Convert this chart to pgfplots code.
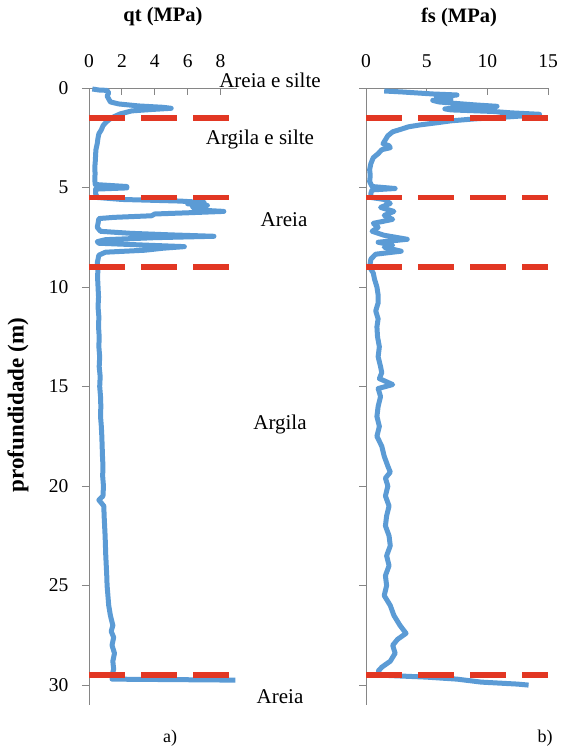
\documentclass[border=0pt]{standalone}
\usepackage{pgfplots}
\pgfplotsset{compat=1.18}
\usepackage{fontspec}
\setmainfont{Liberation Serif}
\definecolor{cptblue}{RGB}{91,155,213}
\definecolor{cptred}{RGB}{226,55,35}
\definecolor{axgray}{RGB}{134,134,134}
\pgfplotsset{
  cpt/.style={
    scale only axis, height=617pt, y dir=reverse, ymin=0, ymax=31,
    ytick={0,5,...,30}, axis x line*=top, axis y line*=left,
    axis line style={axgray, line width=0.9pt},
    tick style={axgray, line width=0.9pt}, tick align=inside, major tick length=7pt,
    ytick style={xshift=-7pt},
    ticklabel style={font=\fontsize{19.5}{22}\selectfont},
    /pgf/number format/assume math mode=true,
    xticklabel shift=17pt, yticklabel shift=17pt,
    clip=false,
  },
  blueline/.style={cptblue, line width=5pt, line join=round, no marks},
  redline/.style={cptred, line width=5.5pt, dash pattern=on 36pt off 16pt, no marks},
}
\begin{document}
\begin{tikzpicture}[x=1pt,y=1pt]
\useasboundingbox (0,0) rectangle (560,752);
\begin{axis}[cpt, width=148pt, at={(89pt,47pt)}, anchor=south west,
  xmin=0, xmax=9, xtick={0,2,4,6,8},
  ylabel={\bfseries profundidade (m)},
  every axis y label/.style={at={(rel axis cs:-0.48,0.486)}, rotate=90, anchor=center, font=\fontsize{23}{26}\selectfont},
]
\addplot[blueline] table {
x y
0.2 0.05
0.6 0.1
1.1 0.12
1.2 0.25
1.1 0.4
1.2 0.55
1.3 0.7
1.8 0.8
3.0 0.9
4.5 0.97
5.0 1.02
3.8 1.08
2.6 1.15
1.9 1.3
1.5 1.45
1.2 1.6
1.0 1.75
0.85 1.9
0.75 2.1
0.6 2.3
0.55 2.5
0.5 2.8
0.42 3.1
0.4 3.4
0.38 3.7
0.35 4.0
0.37 4.3
0.35 4.6
0.38 4.85
2.3 4.95
2.3 5.02
0.4 5.08
0.4 5.3
0.5 5.5
2.0 5.6
5.5 5.68
7.0 5.75
6.0 5.82
7.2 5.9
6.3 5.97
7.0 6.05
6.4 6.12
8.2 6.2
6.0 6.27
4.0 6.33
3.8 6.42
1.5 6.5
0.6 6.56
0.55 6.8
0.5 7.0
0.7 7.2
2.5 7.3
5.0 7.38
7.6 7.45
4.0 7.52
1.0 7.62
0.5 7.72
0.6 7.8
3.0 7.88
5.8 7.97
4.5 8.05
3.4 8.15
1.0 8.25
0.6 8.4
0.55 8.6
0.5 8.8
0.55 9.0
0.52 9.5
0.55 10
0.58 10.5
0.55 11
0.6 11.5
0.58 12
0.62 12.5
0.6 13
0.65 13.5
0.62 14
0.68 14.5
0.65 15
0.7 15.5
0.72 16
0.7 16.5
0.75 17
0.78 17.5
0.8 18
0.82 18.5
0.85 19
0.83 19.5
0.88 20
0.85 20.5
0.6 20.7
0.9 21
0.92 21.5
0.95 22
0.98 22.5
1.0 23
1.02 23.5
1.05 24
1.08 24.5
1.1 25
1.15 25.5
1.2 26
1.3 26.5
1.45 27
1.35 27.3
1.5 27.6
1.4 28
1.55 28.4
1.45 28.8
1.5 29.2
1.4 29.5
1.4 29.7
8.9 29.75
};
\addplot[redline] coordinates {(0,1.5) (9,1.5)};
\addplot[redline] coordinates {(0,5.5) (9,5.5)};
\addplot[redline] coordinates {(0,9) (9,9)};
\addplot[redline] coordinates {(0,29.5) (9,29.5)};
\end{axis}
\begin{axis}[cpt, width=182pt, at={(366pt,47pt)}, anchor=south west,
  xmin=0, xmax=15, xtick={0,5,10,15}, yticklabels={},
]
\addplot[blueline] table {
x y
1.5 0.15
3.0 0.2
5.5 0.3
7.5 0.35
6.5 0.42
5.8 0.5
7.0 0.55
5.5 0.62
6.0 0.7
7.5 0.78
9.0 0.85
10.8 0.92
8.0 0.98
6.5 1.05
7.0 1.1
10.5 1.18
12.0 1.25
14.3 1.32
13.0 1.4
11.0 1.48
9.0 1.55
7.0 1.65
5.8 1.75
4.5 1.85
3.5 1.95
3.0 2.05
2.2 2.2
1.8 2.4
1.6 2.6
1.4 2.8
1.9 2.9
2.0 3.0
1.3 3.1
1.0 3.3
0.6 3.5
0.4 3.8
0.3 4.1
0.35 4.4
0.3 4.7
0.5 4.95
2.4 5.05
0.5 5.12
0.4 5.3
0.4 5.5
1.5 5.6
2.0 5.8
1.2 6.0
2.3 6.2
1.5 6.4
2.2 6.6
0.6 6.8
1.0 7.0
0.5 7.2
1.5 7.4
3.4 7.6
1.0 7.75
2.2 7.9
1.5 8.0
2.9 8.2
0.8 8.35
0.4 8.6
0.3 9.0
0.6 9.3
0.7 9.6
0.9 10
1.0 10.4
1.0 10.8
0.8 11.2
1.0 11.6
0.9 12
0.95 12.5
1.1 13
1.0 13.5
1.2 14
1.3 14.3
1.1 14.6
2.2 14.9
1.0 15.1
1.2 15.5
1.0 16
0.9 16.5
1.1 17
0.9 17.5
1.3 18
1.5 18.5
1.8 19
2.0 19.3
1.6 19.6
1.8 20
1.6 20.5
1.9 21
1.7 21.5
1.6 22
1.9 22.5
2.0 23
1.7 23.5
1.9 24
1.6 24.5
1.7 25
1.5 25.5
2.0 26
2.3 26.5
2.8 27
3.3 27.4
2.6 27.7
2.2 28
2.4 28.4
2.0 28.8
1.3 29.1
1.0 29.3
1.2 29.5
5.0 29.6
7.5 29.7
9.5 29.85
12.5 29.95
13.4 30.0
};
\addplot[redline] coordinates {(0,1.5) (15,1.5)};
\addplot[redline] coordinates {(0,5.5) (15,5.5)};
\addplot[redline] coordinates {(0,9) (15,9)};
\addplot[redline] coordinates {(0,29.5) (15,29.5)};
\end{axis}
\node[font=\fontsize{20.5}{24}\selectfont\bfseries] at (163,735) {qt (MPa)};
\node[font=\fontsize{20.5}{24}\selectfont\bfseries] at (459,735) {fs (MPa)};
\begin{scope}[every node/.style={font=\fontsize{21}{24}\selectfont, anchor=base}]
\node at (270,664) {Areia e silte};
\node at (260,607) {Argila e silte};
\node at (284,525) {Areia};
\node at (280,322) {Argila};
\node at (280,48) {Areia};
\end{scope}
\node[font=\fontsize{18}{21}\selectfont] at (170,14) {a)};
\node[font=\fontsize{18}{21}\selectfont] at (545,14) {b)};
\end{tikzpicture}
\end{document}
